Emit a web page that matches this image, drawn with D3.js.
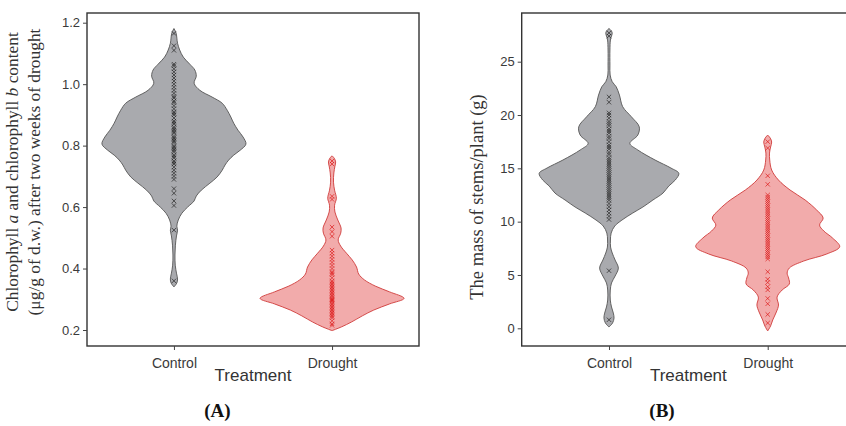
<!DOCTYPE html>
<html>
<head>
<meta charset="utf-8">
<script src="https://cdn.jsdelivr.net/npm/d3@7"></script>
<style>
  body { margin: 0; background: #fff; }
  svg { display: block; }
  .tick text { font-family: 'Liberation Sans', Arial, sans-serif; fill: #3a3a3a; }
  .tick line { stroke: #444; }
</style>
</head>
<body>
<div id="chart"></div>
<script>
const treatments = ['Control', 'Drought']
const chlTicks = [0.2, 0.4, 0.6, 0.8, 1.0, 1.2]
const massTicks = [0, 5, 10, 15, 20, 25]

// observations (x marks)
const chlControl = [1.165, 1.125, 1.11, 1.065, 1.06, 1.05, 1.04, 1.03, 1.02, 1.01, 1.0, 0.99, 0.98, 0.97,
  0.96, 0.955, 0.945, 0.94, 0.93, 0.92, 0.91, 0.905, 0.9, 0.89, 0.88, 0.875, 0.87, 0.86, 0.855, 0.85,
  0.845, 0.84, 0.83, 0.825, 0.82, 0.815, 0.81, 0.8, 0.795, 0.79, 0.785, 0.78, 0.77, 0.765, 0.76, 0.75,
  0.745, 0.74, 0.73, 0.72, 0.71, 0.7, 0.69, 0.66, 0.645, 0.62, 0.605, 0.525, 0.36]
const chlDrought = [0.75, 0.74, 0.635, 0.625, 0.535, 0.52, 0.505, 0.46, 0.45, 0.44, 0.43, 0.42, 0.41, 0.4,
  0.39, 0.385, 0.38, 0.37, 0.36, 0.355, 0.35, 0.345, 0.34, 0.335, 0.33, 0.325, 0.32, 0.315, 0.31, 0.305,
  0.3, 0.298, 0.295, 0.29, 0.285, 0.28, 0.275, 0.27, 0.265, 0.26, 0.255, 0.25, 0.245, 0.24, 0.23, 0.22, 0.215]
const massControl = [27.7, 27.4, 21.7, 21.2, 20.2, 20.0, 19.7, 19.4, 19.2, 19.0, 18.7, 18.5, 18.3, 18.0,
  17.8, 17.5, 17.2, 17.0, 16.8, 16.5, 16.3, 16.0, 15.8, 15.6, 15.4, 15.2, 15.0, 14.8, 14.6, 14.4, 14.2,
  14.0, 13.8, 13.6, 13.4, 13.2, 13.0, 12.8, 12.6, 12.4, 12.2, 12.0, 11.7, 11.4, 11.1, 10.8, 10.5, 10.2, 5.4, 0.8]
const massDrought = [17.5, 16.9, 14.3, 13.5, 12.5, 12.3, 12.1, 11.9, 11.7, 11.5, 11.3, 11.1, 10.9, 10.7,
  10.5, 10.3, 10.1, 9.9, 9.7, 9.5, 9.3, 9.1, 8.9, 8.7, 8.5, 8.3, 8.1, 7.9, 7.7, 7.5, 7.3, 7.1, 6.9, 6.7,
  6.5, 5.3, 4.6, 4.3, 3.9, 3.6, 2.8, 2.3, 1.3, 0.5]

// violin outlines: [value, relative density]
const chlControlDens = [[1.181, 0], [1.166, 0.03], [1.133, 0.05], [1.111, 0.08], [1.088, 0.13], [1.065, 0.22],
  [1.046, 0.29], [1.026, 0.31], [1.003, 0.28], [0.98, 0.36], [0.958, 0.53], [0.938, 0.67], [0.915, 0.74],
  [0.893, 0.79], [0.873, 0.83], [0.85, 0.89], [0.828, 0.96], [0.805, 1.0], [0.785, 0.92], [0.769, 0.83],
  [0.753, 0.76], [0.737, 0.71], [0.72, 0.67], [0.698, 0.6], [0.678, 0.5], [0.655, 0.38], [0.636, 0.31],
  [0.62, 0.28], [0.6, 0.19], [0.58, 0.11], [0.558, 0.06], [0.538, 0.04], [0.525, 0.05], [0.506, 0.035],
  [0.476, 0.02], [0.444, 0.014], [0.411, 0.018], [0.385, 0.035], [0.366, 0.05], [0.353, 0.04], [0.34, 0]]
const chlDroughtDens = [[0.767, 0], [0.759, 0.03], [0.747, 0.05], [0.733, 0.04], [0.711, 0.025], [0.681, 0.02],
  [0.655, 0.035], [0.629, 0.06], [0.606, 0.035], [0.584, 0.04], [0.558, 0.08], [0.532, 0.125], [0.515, 0.12],
  [0.493, 0.085], [0.473, 0.12], [0.45, 0.2], [0.428, 0.28], [0.405, 0.34], [0.382, 0.37], [0.363, 0.45],
  [0.343, 0.6], [0.324, 0.8], [0.303, 1.0], [0.285, 0.8], [0.265, 0.58], [0.246, 0.42], [0.226, 0.27],
  [0.21, 0.13], [0.198, 0]]
const massControlDens = [[28.12, 0], [27.87, 0.035], [27.66, 0.045], [27.41, 0.035], [27.03, 0.02], [26.1, 0.013],
  [24.68, 0.013], [23.75, 0.016], [23.12, 0.045], [22.65, 0.1], [21.87, 0.145], [20.78, 0.19], [19.84, 0.31],
  [18.9, 0.42], [18.12, 0.4], [17.34, 0.29], [16.72, 0.4], [15.78, 0.64], [15.03, 0.86], [14.53, 0.97],
  [13.9, 0.92], [13.34, 0.83], [12.68, 0.75], [12.03, 0.61], [11.37, 0.47], [10.81, 0.33], [10.15, 0.18],
  [9.59, 0.08], [8.93, 0.03], [8.28, 0.02], [7.62, 0.022], [7.06, 0.045], [6.4, 0.085], [5.65, 0.13],
  [4.9, 0.085], [4.25, 0.035], [3.59, 0.018], [2.65, 0.018], [2.0, 0.035], [1.43, 0.06], [0.97, 0.07],
  [0.5, 0.05], [0.12, 0]]
const massDroughtDens = [[18.12, 0], [17.84, 0.035], [17.47, 0.055], [17.0, 0.04], [16.43, 0.025], [15.78, 0.028],
  [14.84, 0.055], [13.9, 0.15], [12.97, 0.31], [12.03, 0.52], [11.09, 0.68], [10.34, 0.77], [9.68, 0.72],
  [9.12, 0.78], [8.47, 0.9], [7.65, 1.0], [6.97, 0.82], [6.31, 0.5], [5.65, 0.3], [5.18, 0.27], [4.72, 0.29],
  [4.15, 0.3], [3.59, 0.2], [2.93, 0.13], [2.18, 0.15], [1.53, 0.12], [0.78, 0.07], [0.22, 0.04], [-0.25, 0]]

const width = 846
const height = 426

const styles = {
  Control: { fill: '#a9aaae', stroke: '#555', mark: '#1e1e1e' },
  Drought: { fill: '#f2abab', stroke: '#cf3b3a', mark: '#dc1414' }
}

const svg = d3.select('#chart')
  .append('svg')
  .attr('width', width)
  .attr('height', height)

function panel(opts) {
  const g = svg.append('g')

  const y = d3.scaleLinear()
    .domain(opts.domain)
    .range(opts.range)

  const x = d3.scalePoint()
    .domain(treatments)
    .range([opts.left, opts.right])
    .padding(0.55)

  const w = d3.scaleLinear().domain([0, 1]).range([0, 72])

  opts.groups.forEach(grp => {
    const cx = x(grp.name)
    const st = styles[grp.name]
    const area = d3.area()
      .y(d => y(d[0]))
      .x0(d => cx - w(d[1]))
      .x1(d => cx + w(d[1]))
      .curve(d3.curveCatmullRom.alpha(0.5))

    g.append('path')
      .datum(grp.dens)
      .attr('d', area)
      .attr('fill', st.fill)
      .attr('stroke', st.stroke)
      .attr('stroke-width', 0.9)

    g.append('g')
      .selectAll('path')
      .data(grp.obs)
      .join('path')
      .attr('d', d3.symbol().type(d3.symbolX).size(14))
      .attr('transform', d => `translate(${cx},${y(d)})`)
      .attr('fill', 'none')
      .attr('stroke', st.mark)
      .attr('stroke-opacity', 0.85)
      .attr('stroke-width', 0.8)
  })

  // frame
  g.append('rect')
    .attr('x', opts.left)
    .attr('y', opts.top)
    .attr('width', opts.right - opts.left)
    .attr('height', opts.bottom - opts.top)
    .attr('fill', 'none')
    .attr('stroke', '#333')
    .attr('stroke-width', 1.4)

  g.append('g')
    .attr('transform', `translate(${opts.left},0)`)
    .call(d3.axisLeft(y).tickValues(opts.ticks).tickFormat(opts.format).tickSize(4).tickPadding(3))
    .call(a => a.select('.domain').remove())
    .selectAll('text')
    .style('font-size', '13px')

  g.append('g')
    .attr('transform', `translate(0,${opts.bottom})`)
    .call(d3.axisBottom(x).tickSize(4).tickPadding(8))
    .call(a => a.select('.domain').remove())
    .selectAll('text')
    .style('font-size', '14px')

  const mid = (opts.left + opts.right) / 2
  g.append('text')
    .attr('x', mid)
    .attr('y', 381)
    .attr('text-anchor', 'middle')
    .style('font-family', "'Liberation Sans', Arial, sans-serif")
    .style('font-size', '17px')
    .style('fill', '#333')
    .text('Treatment')

  g.append('text')
    .attr('x', opts.labelX)
    .attr('y', 417)
    .attr('text-anchor', 'middle')
    .style('font-family', "'Liberation Serif', 'Times New Roman', serif")
    .style('font-weight', 'bold')
    .style('font-size', '19px')
    .style('fill', '#111')
    .text(opts.label)

  return g
}

const a = panel({
  left: 87, right: 419, top: 13, bottom: 346,
  domain: [0.2, 1.2], range: [330, 22.7],
  ticks: chlTicks, format: d3.format('.1f'),
  groups: [
    { name: 'Control', obs: chlControl, dens: chlControlDens },
    { name: 'Drought', obs: chlDrought, dens: chlDroughtDens }
  ],
  label: '(A)', labelX: 217.5
})

const b = panel({
  left: 521.7, right: 855, top: 13, bottom: 346,
  domain: [0, 25], range: [328.3, 61.7],
  ticks: massTicks, format: d3.format('d'),
  groups: [
    { name: 'Control', obs: massControl, dens: massControlDens },
    { name: 'Drought', obs: massDrought, dens: massDroughtDens }
  ],
  label: '(B)', labelX: 662
})

// y axis titles
const serif = "'Liberation Serif', 'Times New Roman', serif"
const ta = a.append('g')
  .attr('transform', 'translate(0,172) rotate(-90)')
  .style('font-family', serif)
  .style('font-size', '17.4px')
  .style('fill', '#333')

const l1 = ta.append('text').attr('y', 18).attr('text-anchor', 'middle')
l1.append('tspan').text('Chlorophyll ')
l1.append('tspan').style('font-style', 'italic').text('a')
l1.append('tspan').text(' and chlorophyll ')
l1.append('tspan').style('font-style', 'italic').text('b')
l1.append('tspan').text(' content')

ta.append('text').attr('y', 40).attr('text-anchor', 'middle')
  .text('(μg/g of d.w.) after two weeks of drought')

b.append('text')
  .attr('transform', 'translate(483,197) rotate(-90)')
  .attr('text-anchor', 'middle')
  .style('font-family', serif)
  .style('font-size', '18.5px')
  .style('fill', '#333')
  .text('The mass of stems/plant (g)')
</script>
</body>
</html>
